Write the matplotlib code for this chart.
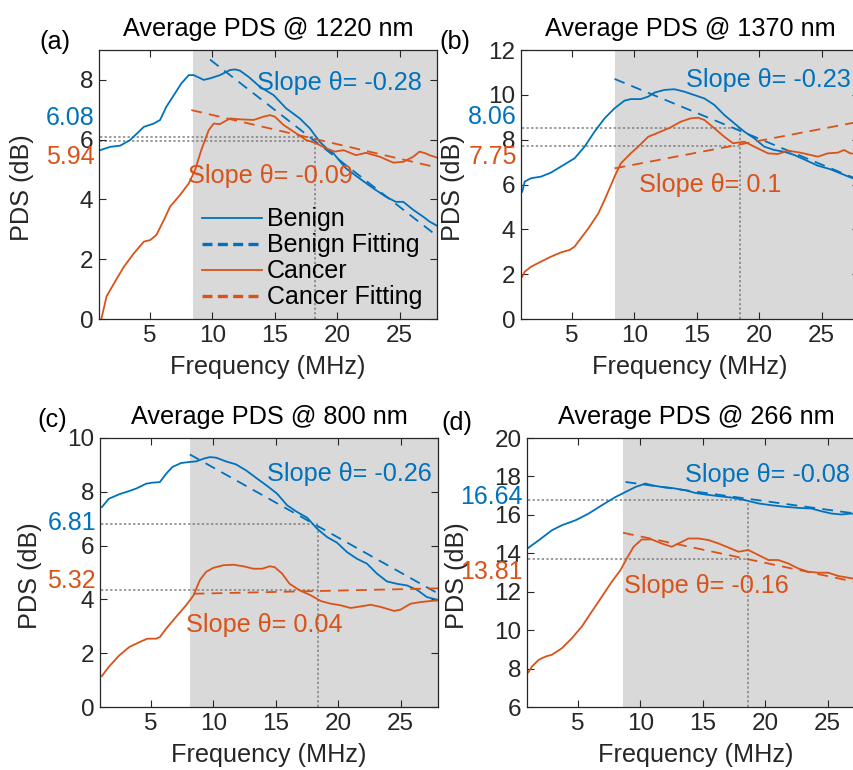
import matplotlib
matplotlib.use("Agg")
import matplotlib.pyplot as plt
from matplotlib.lines import Line2D
import matplotlib.transforms as mtransforms

plt.rcParams['font.family'] = ['Liberation Sans', 'DejaVu Sans']

BLUE = '#0072BD'
ORANGE = '#D95319'
SHADE = '#d9d9d9'
DARK = '#262626'

# ---------------- data ----------------
# (a) 1220 nm
a_benign_x = [1.0, 1.8, 2.6, 3.4, 4.5, 5.3, 5.8, 6.3, 6.9, 7.5, 8.1, 8.5, 9.3, 9.8, 10.6, 11.4, 11.8, 12.2,
              12.9, 13.8, 14.9, 15.9, 17.0, 17.8, 18.6, 19.3, 19.7, 20.7, 21.8, 22.9, 23.9, 24.7, 25.3, 26.1,
              26.9, 27.4, 28.0]
a_benign_y = [5.65, 5.76, 5.80, 5.99, 6.43, 6.54, 6.66, 7.10, 7.49, 7.88, 8.16, 8.16, 8.00, 8.05, 8.16, 8.33,
              8.35, 8.31, 8.10, 7.77, 7.49, 7.05, 6.71, 6.38, 5.93, 5.65, 5.54, 5.04, 4.70, 4.37, 4.09, 3.92,
              3.92, 3.65, 3.42, 3.26, 3.12]
a_cancer_x = [1.1, 1.5, 2.1, 2.9, 3.7, 4.5, 5.0, 5.5, 6.1, 6.6, 7.4, 8.1, 8.6, 9.1, 9.7, 10.1, 10.6, 11.4,
              12.2, 13.3, 14.1, 14.6, 15.0, 15.7, 16.5, 17.5, 18.3, 19.1, 19.8, 20.5, 21.5, 22.3, 23.4, 24.5,
              25.3, 26.1, 26.6, 27.1, 27.4, 28.0]
a_cancer_y = [0.02, 0.75, 1.19, 1.75, 2.20, 2.59, 2.64, 2.81, 3.31, 3.76, 4.15, 4.54, 4.98, 5.65, 6.32, 6.54,
              6.52, 6.71, 6.68, 6.66, 6.77, 6.82, 6.77, 6.49, 6.27, 5.99, 5.88, 5.71, 5.60, 5.65, 5.48, 5.56,
              5.43, 5.23, 5.26, 5.43, 5.60, 5.54, 5.48, 5.40]
a_benign_fit_x, a_benign_fit_y = [9.8, 28.0], [8.68, 2.78]
a_cancer_fit_x, a_cancer_fit_y = [8.3, 28.0], [6.99, 5.07]

# (b) 1370 nm
b_benign_x = [1.0, 1.2, 1.7, 2.5, 3.3, 4.1, 5.2, 6.0, 6.8, 7.6, 8.4, 9.2, 9.7, 10.5, 11.1, 11.6, 12.4, 13.2,
              14.0, 14.8, 15.6, 16.4, 17.2, 18.0, 18.8, 19.6, 20.4, 21.2, 22.0, 22.8, 23.6, 24.7, 25.7, 26.5,
              27.3, 28.0]
b_benign_y = [5.68, 6.13, 6.28, 6.35, 6.53, 6.80, 7.17, 7.69, 8.36, 8.95, 9.40, 9.74, 9.81, 9.81, 9.92, 10.10,
              10.22, 10.25, 10.14, 9.99, 9.84, 9.55, 9.10, 8.73, 8.36, 8.06, 7.69, 7.54, 7.46, 7.32, 7.12, 6.84,
              6.68, 6.50, 6.32, 6.18]
b_cancer_x = [1.0, 1.2, 1.7, 2.5, 3.3, 4.1, 4.8, 5.2, 5.7, 6.3, 7.1, 7.6, 8.4, 8.9, 9.7, 10.3, 11.1, 11.9,
              12.9, 13.7, 14.5, 15.1, 15.6, 16.4, 17.2, 17.9, 18.8, 19.6, 20.7, 21.5, 22.3, 23.3, 24.1, 24.7,
              25.5, 26.3, 26.8, 27.3, 28.0]
b_cancer_y = [1.89, 2.11, 2.33, 2.56, 2.78, 2.97, 3.08, 3.23, 3.60, 4.04, 4.71, 5.31, 6.35, 6.94, 7.39, 7.69,
              8.13, 8.31, 8.55, 8.80, 8.95, 8.98, 8.88, 8.51, 8.13, 7.84, 7.91, 7.69, 7.39, 7.36, 7.51, 7.42,
              7.32, 7.24, 7.39, 7.42, 7.54, 7.39, 7.35]
b_benign_fit_x, b_benign_fit_y = [8.4, 28.0], [10.71, 6.20]
b_cancer_fit_x, b_cancer_fit_y = [8.4, 28.0], [6.72, 8.80]

# (c) 800 nm
c_benign_x = [1.05, 1.6, 2.45, 3.25, 3.8, 4.6, 5.1, 5.7, 6.2, 6.7, 7.4, 8.1, 8.6, 9.2, 9.7, 10.2, 11.0, 11.8,
              12.6, 13.5, 14.3, 15.1, 15.9, 16.7, 17.5, 18.3, 19.1, 19.9, 20.7, 21.5, 22.3, 23.1, 23.9, 24.7,
              25.5, 26.3, 27.1, 27.4, 28.0]
c_benign_y = [7.43, 7.74, 7.91, 8.03, 8.12, 8.30, 8.34, 8.36, 8.67, 8.92, 9.07, 9.11, 9.13, 9.23, 9.29, 9.27,
              9.13, 9.02, 8.80, 8.49, 8.22, 7.93, 7.50, 7.25, 7.04, 6.63, 6.32, 6.11, 5.76, 5.51, 5.33, 4.96,
              4.67, 4.58, 4.52, 4.36, 4.09, 4.05, 3.98]
c_cancer_x = [1.05, 1.6, 2.45, 3.25, 4.1, 4.7, 5.4, 5.7, 6.2, 7.0, 7.8, 8.4, 8.9, 9.4, 9.97, 10.8, 11.6, 12.4,
              13.2, 13.9, 14.5, 14.9, 15.5, 16.1, 16.9, 17.8, 18.6, 19.4, 20.2, 21.0, 21.8, 22.6, 23.4, 24.5,
              25.0, 25.8, 26.6, 27.4, 28.0]
c_cancer_y = [1.15, 1.49, 1.92, 2.23, 2.42, 2.54, 2.54, 2.60, 2.91, 3.35, 3.78, 4.15, 4.71, 5.02, 5.17, 5.27,
              5.29, 5.23, 5.14, 5.14, 5.23, 5.20, 4.96, 4.58, 4.34, 4.15, 3.94, 3.84, 3.78, 3.68, 3.74, 3.80,
              3.72, 3.57, 3.62, 3.84, 3.90, 3.94, 3.96]
c_benign_fit_x, c_benign_fit_y = [8.1, 28.0], [9.39, 4.22]
c_cancer_fit_x, c_cancer_fit_y = [8.4, 28.0], [4.21, 4.41]

# (d) 266 nm
d_benign_x = [1.0, 1.85, 2.9, 3.7, 4.8, 5.85, 6.9, 8.0, 8.8, 9.6, 10.4, 10.9, 11.7, 12.5, 13.6, 14.4, 15.2,
              16.3, 17.3, 18.4, 19.5, 20.5, 21.6, 22.7, 23.7, 24.5, 25.3, 26.1, 26.9, 28.0]
d_benign_y = [14.28, 14.68, 15.20, 15.46, 15.72, 16.07, 16.50, 16.93, 17.19, 17.45, 17.63, 17.54, 17.45, 17.40,
              17.28, 17.14, 17.06, 16.97, 16.90, 16.76, 16.59, 16.50, 16.42, 16.36, 16.33, 16.19, 16.07, 16.02,
              16.07, 16.00]
d_cancer_x = [1.0, 1.3, 1.85, 2.4, 2.9, 3.7, 4.5, 5.3, 6.1, 6.9, 7.7, 8.4, 8.9, 9.45, 10.1, 10.9, 11.7, 12.5,
              13.05, 13.85, 14.65, 15.45, 16.25, 17.05, 17.85, 18.65, 19.45, 20.25, 21.05, 21.85, 22.65, 23.45,
              24.25, 25.05, 25.85, 26.9, 28.0]
d_cancer_y = [7.80, 8.11, 8.46, 8.63, 8.72, 9.06, 9.58, 10.19, 10.97, 11.74, 12.52, 13.13, 13.73, 14.34, 14.72,
              14.72, 14.51, 14.34, 14.51, 14.77, 14.77, 14.69, 14.51, 14.30, 14.08, 14.17, 13.91, 13.65, 13.65,
              13.47, 13.21, 13.04, 12.99, 12.99, 12.82, 12.70, 12.60]
d_benign_fit_x, d_benign_fit_y = [8.8, 28.0], [17.71, 16.00]
d_cancer_fit_x, d_cancer_fit_y = [8.6, 28.0], [15.07, 12.40]

titles = ['Average PDS @ 1220 nm', 'Average PDS @ 1370 nm', 'Average PDS @ 800 nm', 'Average PDS @ 266 nm']
panel_tags = ['(a)', '(b)', '(c)', '(d)']
ylims = [(0, 9), (0, 12), (0, 10), (6, 20)]
yticks = [[0, 2, 4, 6, 8], [0, 2, 4, 6, 8, 10, 12], [0, 2, 4, 6, 8, 10], [6, 8, 10, 12, 14, 16, 18, 20]]
shade_start = [8.4, 8.4, 8.1, 8.6]
center_freq = [18.2, 18.45, 18.4, 18.6]
benign_level = [6.09, 8.53, 6.79, 16.77]
cancer_level = [5.95, 7.73, 4.35, 13.70]
benign_val = ['6.08', '8.06', '6.81', '16.64']
cancer_val = ['5.94', '7.75', '5.32', '13.81']
benign_slope = ['Slope θ= -0.28', 'Slope θ= -0.23', 'Slope θ= -0.26', 'Slope θ= -0.08']
cancer_slope = ['Slope θ= -0.09', 'Slope θ= 0.1', 'Slope θ= 0.04', 'Slope θ= -0.16']

series = [
    (a_benign_x, a_benign_y, a_cancer_x, a_cancer_y, a_benign_fit_x, a_benign_fit_y, a_cancer_fit_x, a_cancer_fit_y),
    (b_benign_x, b_benign_y, b_cancer_x, b_cancer_y, b_benign_fit_x, b_benign_fit_y, b_cancer_fit_x, b_cancer_fit_y),
    (c_benign_x, c_benign_y, c_cancer_x, c_cancer_y, c_benign_fit_x, c_benign_fit_y, c_cancer_fit_x, c_cancer_fit_y),
    (d_benign_x, d_benign_y, d_cancer_x, d_cancer_y, d_benign_fit_x, d_benign_fit_y, d_cancer_fit_x, d_cancer_fit_y),
]

# ---------------- layout ----------------
# positions in pixels (left, bottom-from-top) of an 854x770 canvas; right panels run past the edge
W, H = 854, 770
boxes = [(99, 319), (521, 319), (100, 707), (527, 707)]
ax_w, ax_h = 338, 269
slope_pos = [((13.6, 7.9), (8.0, 4.8)), ((14.1, 10.67), (10.4, 6.0)),
             ((14.3, 8.66), (7.8, 3.05)), ((13.6, 18.1), (8.7, 12.3))]
val_pos = [(6.72, 5.42), (9.0, 7.23), (6.84, 4.68), (16.94, 13.03)]
tag_pos = [(55, 42), (455, 42), (52, 420), (457, 423)]
ylabel_x = [-0.193, -0.166, -0.173, -0.172]

fig = plt.figure(figsize=(W / 100, H / 100), dpi=100)
FS = 18.2

for i in range(4):
    left, bottom = boxes[i]
    ax = fig.add_axes([left / W, 1 - bottom / H, ax_w / W, ax_h / H])
    bx, by, cx, cy, bfx, bfy, cfx, cfy = series[i]

    ax.axvspan(shade_start[i], 30, color=SHADE, lw=0, zorder=0)
    ax.plot([1, center_freq[i]], [benign_level[i]] * 2, ls=(0, (1.5, 1.5)), color='#808080', lw=1.1, zorder=1)
    ax.plot([1, center_freq[i]], [cancer_level[i]] * 2, ls=(0, (1.5, 1.5)), color='#808080', lw=1.1, zorder=1)
    ax.plot([center_freq[i]] * 2, [ylims[i][0], benign_level[i]], ls=(0, (1.5, 1.5)), color='#808080', lw=1.1, zorder=1)

    ax.plot(bx, by, color=BLUE, lw=1.3, zorder=3)
    ax.plot(bfx, bfy, color=BLUE, lw=1.3, ls=(0, (6, 4)), zorder=3)
    ax.plot(cx, cy, color=ORANGE, lw=1.3, zorder=3)
    ax.plot(cfx, cfy, color=ORANGE, lw=1.3, ls=(0, (6, 4)), zorder=3)

    ax.set_xlim(0.9, 28)
    ax.set_ylim(*ylims[i])
    ax.set_xticks([5, 10, 15, 20, 25])
    ax.set_yticks(yticks[i])
    ax.tick_params(direction='in', top=True, right=True, length=5, width=0.8,
                   labelsize=17.5, colors=DARK, pad=4)
    for sp in ax.spines.values():
        sp.set_color(DARK)
        sp.set_linewidth(0.9)
        sp.set_zorder(5)

    ax.set_title(titles[i], fontsize=FS, color='black', pad=10)
    ax.set_xlabel('Frequency (MHz)', fontsize=FS, color=DARK)
    ax.set_ylabel('PDS (dB)', fontsize=FS, color=DARK)
    ax.xaxis.set_label_coords(0.5, -0.135)
    ax.yaxis.set_label_coords(ylabel_x[i], 0.49)

    (sbx, sby), (scx, scy) = slope_pos[i]
    ax.text(sbx, sby, benign_slope[i], color=BLUE, fontsize=FS, va='center', ha='left', zorder=6)
    ax.text(scx, scy, cancer_slope[i], color=ORANGE, fontsize=FS, va='center', ha='left', zorder=6)

    trans = mtransforms.blended_transform_factory(ax.transAxes, ax.transData)
    vb, vc = val_pos[i]
    ax.text(-0.012, vb, benign_val[i], color=BLUE, fontsize=18, ha='right', va='center',
            transform=trans, clip_on=False)
    ax.text(-0.012, vc, cancer_val[i], color=ORANGE, fontsize=18, ha='right', va='center',
            transform=trans, clip_on=False)

    tx, ty = tag_pos[i]
    fig.text(tx / W, 1 - ty / H, panel_tags[i], fontsize=FS, ha='center', va='center')

    if i == 0:
        handles = [Line2D([], [], color=BLUE, lw=1.3),
                   Line2D([], [], color=BLUE, lw=2.4, ls=(0, (3, 1.6))),
                   Line2D([], [], color=ORANGE, lw=1.3),
                   Line2D([], [], color=ORANGE, lw=2.4, ls=(0, (3, 1.6)))]
        ax.legend(handles, ['Benign', 'Benign Fitting', 'Cancer', 'Cancer Fitting'],
                  loc='upper left', bbox_to_anchor=(0.305, 0.415), frameon=False,
                  fontsize=18, handlelength=2.4, handletextpad=0.2,
                  labelspacing=0.08, borderpad=0, borderaxespad=0)

fig.savefig('out.png', dpi=100)
